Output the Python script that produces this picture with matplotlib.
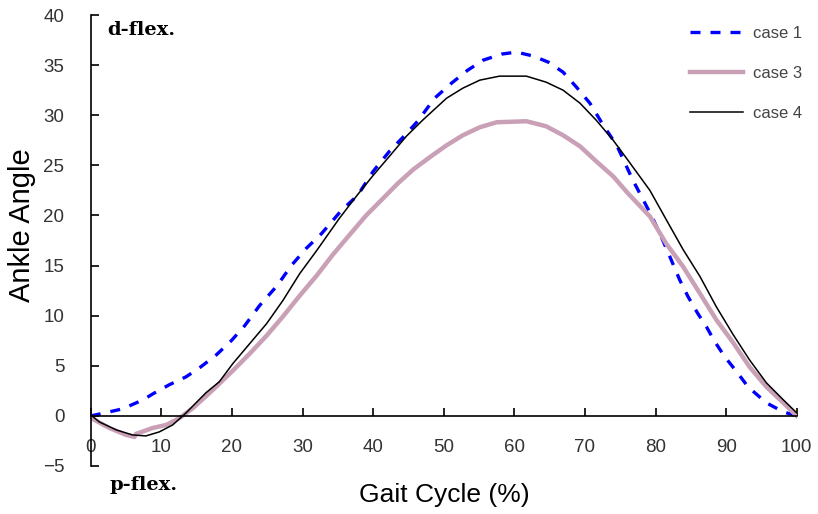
import numpy as np
import matplotlib
matplotlib.use("Agg")
import matplotlib.pyplot as plt

case1_x = [0, 2, 4.5, 7.4, 8.8, 11.1, 13.5, 15.6, 17.8, 19.9, 21.8, 23.9, 26.4, 28.4, 30.5,
           32.7, 35.5, 37.8, 40, 42.3, 44.5, 46.3, 48.7, 51.1, 53.4, 55.6, 58.2, 60.3, 62.7, 64.8,
           66.9, 68.8, 70.7, 72.6, 74.5, 76.8, 78, 79.4, 80.8, 82.2, 83.4, 84.6, 86, 87.2,
           88.4, 89.8, 91.5, 93.1, 95.7, 98.1, 100]
case1_y = [0, 0.3, 0.7, 1.6, 2.2, 3.1, 3.9, 4.9, 6.1, 7.5, 9.0, 11.0, 13.0, 15.0, 16.7,
           18.2, 20.5, 22.0, 24.4, 26.4, 28.0, 29.4, 31.7, 33.2, 34.5, 35.5, 36.1, 36.3, 35.9, 35.3,
           34.3, 32.8, 31.2, 29.0, 27.0, 23.5, 21.9, 20.0, 17.9, 15.6, 13.6, 11.9, 10.2, 8.9,
           7.4, 5.9, 4.4, 2.9, 1.3, 0.4, 0]

case3_x = [0, 2.6, 5, 6.2, 6.4, 8.8, 10.7, 12.6, 14.5, 17.3, 20.1, 22.5, 24.9, 27.2, 29.6,
           32, 34.3, 36.7, 39, 41.4, 43.5, 45.7, 48, 50.4, 52.7, 55.1, 57.5, 61.7, 64.5, 66.9,
           69.3, 71.6, 74, 76.1, 79.2, 81.5, 83.9, 86.3, 88.6, 91, 93.3, 95.7, 98.1, 100]
case3_y = [-0.2, -1.2, -1.9, -2.1, -1.8, -1.2, -0.9, -0.2, 0.8, 2.6, 4.5, 6.2, 8.0, 9.9, 12.0,
           14.0, 16.1, 18.1, 20.0, 21.7, 23.2, 24.6, 25.8, 27.0, 28.0, 28.8, 29.3, 29.4, 28.9, 28.0,
           26.9, 25.4, 23.9, 22.2, 19.9, 17.2, 14.9, 12.2, 9.6, 7.3, 4.9, 2.9, 1.3, 0]

case4_x = [0, 1.2, 3.6, 5.9, 7.8, 9.7, 11.6, 13.5, 16.3, 18.2, 20.1, 22.5, 24.9, 27.2, 29.6,
           32.0, 35.2, 37.6, 40, 42.3, 44.7, 47, 50.4, 52.7, 55.1, 57.9, 61.7, 64.5,
           66.9, 69.3, 71.6, 74, 76.1, 79.2, 81.5, 83.9, 86.3, 88.6, 91, 93.3, 95.7, 98.1, 100]
case4_y = [0.1, -0.6, -1.4, -1.9, -2.0, -1.6, -0.9, 0.3, 2.3, 3.4, 5.2, 7.2, 9.2, 11.5, 14.2,
           16.5, 19.7, 21.9, 24.0, 25.9, 27.9, 29.5, 31.7, 32.7, 33.5, 33.9, 33.9, 33.3,
           32.5, 31.2, 29.5, 27.5, 25.5, 22.5, 19.6, 16.6, 13.9, 10.9, 8.1, 5.6, 3.3, 1.6, 0.3]

x_ticks = [0, 10, 20, 30, 40, 50, 60, 70, 80, 90, 100]
y_ticks = [-5, 0, 5, 10, 15, 20, 25, 30, 35, 40]

plt.rcParams['font.family'] = ['Liberation Sans', 'DejaVu Sans']

fig = plt.figure(figsize=(8.18, 5.14), dpi=100)
ax = fig.add_axes([0.111, 0.0934, 0.863, 0.8774])

ax.plot(case1_x, case1_y, color='#0000ff', lw=2.4, dashes=(3, 3), label='case 1')
ax.plot(case3_x, case3_y, color='#c9a0b6', lw=3.2, label='case 3')
ax.plot(case4_x, case4_y, color='black', lw=1.1, label='case 4')

ax.set_xlim(0, 100)
ax.set_ylim(-5, 40)
ax.set_xticks(x_ticks)
ax.set_yticks(y_ticks)

for s in ['top', 'right']:
    ax.spines[s].set_visible(False)
ax.spines['bottom'].set_position(('data', 0))
ax.spines['left'].set_linewidth(1.2)
ax.spines['bottom'].set_linewidth(1.2)

ax.tick_params(axis='x', direction='in', length=6, width=1.2, pad=16.5,
               labelsize=13.5, labelcolor='#333333')
ax.tick_params(axis='y', direction='in', length=6, width=1.2, pad=19,
               labelsize=13.5, labelcolor='#333333')

fig.text(0.027, 0.562, 'Ankle Angle', rotation=90, fontsize=21, ha='center', va='center')
fig.text(0.543, 0.037, 'Gait Cycle (%)', fontsize=19, ha='center', va='center')

ax.text(2.4, 38.5, 'd-flex.', fontsize=14, fontweight='bold', family='DejaVu Serif',
        va='center', ha='left')
ax.text(2.6, -6.9, 'p-flex.', fontsize=14, fontweight='bold', family='DejaVu Serif',
        va='center', ha='left', clip_on=False)

leg = ax.legend(loc='upper left', bbox_to_anchor=(0.849, 0.975), frameon=False,
                borderpad=0, borderaxespad=0, handlelength=3.2, handletextpad=0.6,
                labelspacing=1.5, fontsize=12)
for t in leg.get_texts():
    t.set_color('#444444')

plt.savefig('out.png', dpi=100)
